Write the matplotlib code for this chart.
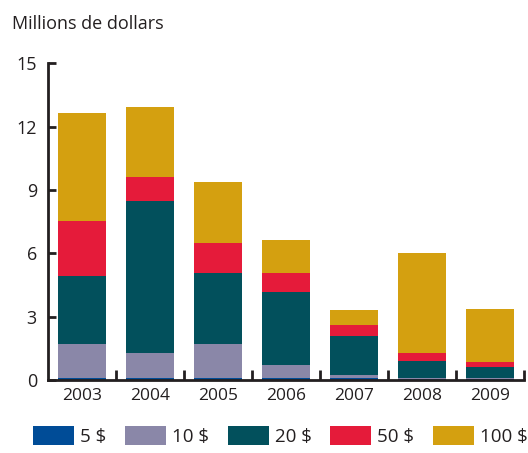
import numpy as np
import matplotlib.pyplot as plt
from matplotlib.patches import Patch

annees = ['2003', '2004', '2005', '2006', '2007', '2008', '2009']
coupures = ['5 $', '10 $', '20 $', '50 $', '100 $']

b5 = [0.11, 0.11, 0.11, 0.09, 0.09, 0.05, 0.03]
b10 = [1.60, 1.18, 1.60, 0.62, 0.15, 0.04, 0.06]
b20 = [3.22, 7.19, 3.36, 3.46, 1.84, 0.81, 0.53]
b50 = [2.60, 1.14, 1.42, 0.90, 0.53, 0.38, 0.23]
b100 = [5.10, 3.31, 2.89, 1.56, 0.71, 4.74, 2.51]

couleurs = ['#004C97', '#8A87A8', '#02505C', '#E51B3A', '#D4A010']
encre = '#231F20'

plt.rcParams['font.family'] = ['Open Sans', 'DejaVu Sans']

fig = plt.figure(figsize=(5.28, 4.53), dpi=100)
ax = fig.add_axes([0.0909, 0.161, 0.9015, 0.699])

x = np.arange(len(annees))
bas = np.zeros(len(annees))
for serie, coul in zip([b5, b10, b20, b50, b100], couleurs):
    ax.bar(x, serie, width=0.72, bottom=bas, color=coul, linewidth=0)
    bas += np.array(serie)

ax.set_xlim(-0.5, len(annees) - 0.5)
ax.set_ylim(0, 15)
ax.set_yticks([0, 3, 6, 9, 12, 15])
ax.set_xticks(x)
ax.set_xticklabels(annees)
ax.set_xticks(np.arange(0.5, len(annees), 1.0), minor=True)

for s in ['top', 'right']:
    ax.spines[s].set_visible(False)
for s in ['left', 'bottom']:
    ax.spines[s].set_linewidth(2.0)
    ax.spines[s].set_color(encre)

ax.tick_params(axis='y', direction='in', length=6, width=2.0, color=encre,
               labelsize=13, labelcolor=encre, pad=8)
ax.tick_params(axis='x', which='major', length=0, labelsize=12.5, labelcolor=encre, pad=6)
ax.tick_params(axis='x', which='minor', direction='in', length=7, width=2.0, color=encre)

fig.text(0.023, 0.948, 'Millions de dollars', fontsize=13, color=encre, va='center')

poignees = [Patch(facecolor=c, edgecolor='none') for c in couleurs]
fig.legend(poignees, coupures, loc='lower left', bbox_to_anchor=(0.045, -0.005),
           ncol=5, frameon=False, fontsize=13.5, handlelength=2.2, handleheight=1.2,
           handletextpad=0.3, columnspacing=1.0, borderpad=0, labelcolor=encre)

fig.savefig('out.png', dpi=100)
